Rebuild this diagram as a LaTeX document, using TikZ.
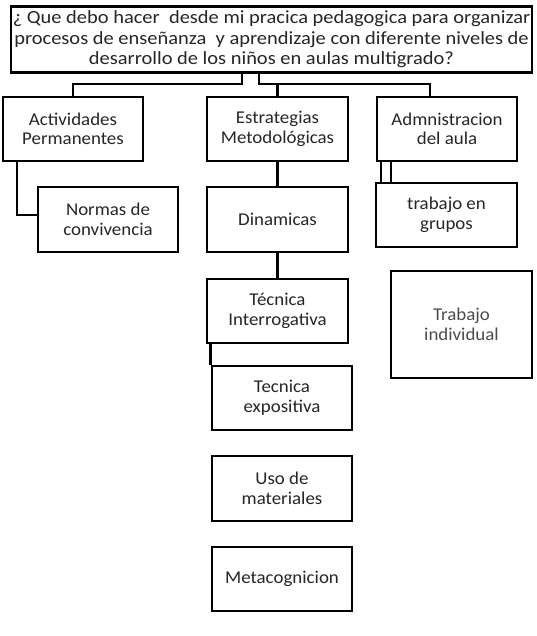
\documentclass[tikz,border=0pt]{standalone}
\usepackage{fontspec}
\setmainfont[FakeStretch=1.05]{Carlito}
\newfontfamily\topfont[FakeStretch=1.1]{Carlito}
\begin{document}
\begin{tikzpicture}[x=1pt,y=-1pt,
  box/.style={draw=black, line width=2.6pt, fill=white, inner sep=0pt, align=center,
    font=\fontsize{18}{19.5}\selectfont, text=black!85},
  con/.style={draw=black, line width=2.6pt}]
\useasboundingbox (0,0) rectangle (536,636);
% boxes
\node[box, minimum width=521pt, minimum height=66pt, font=\topfont\fontsize{18.6}{20.5}\selectfont] (top) at (271.5,39.5)
  {¿ Que debo hacer~ desde mi pracica pedagogica para organizar\\
   procesos de enseñanza~ y aprendizaje con diferente niveles de\\
   desarrollo de los niños en aulas multigrado?};
\node[box, minimum width=140pt, minimum height=64pt] (act) at (73,129) {Actividades\\Permanentes};
\node[box, minimum width=141pt, minimum height=64pt] (est) at (277.5,129) {Estrategias\\Metodológicas};
\node[box, minimum width=140pt, minimum height=64pt] (adm) at (447,129) {Admnistracion\\del aula};
\node[box, minimum width=140pt, minimum height=65pt] (nor) at (108,219.5) {Normas de\\convivencia};
\node[box, minimum width=141pt, minimum height=65pt] (din) at (277.5,219.5) {Dinamicas};
\node[box, minimum width=141pt, minimum height=64pt] (grp) at (446.5,215) {trabajo en\\grupos};
\node[box, minimum width=141pt, minimum height=64pt] (tin) at (277.5,311) {Técnica\\Interrogativa};
\node[box, minimum width=141pt, minimum height=107pt, text=black!70] (ind) at (461.5,324.5) {Trabajo\\individual};
\node[box, minimum width=140pt, minimum height=64pt] (exp) at (282,398) {Tecnica\\expositiva};
\node[box, minimum width=140pt, minimum height=65pt] (uso) at (282,488.5) {Uso de\\materiales};
\node[box, minimum width=140pt, minimum height=64pt] (met) at (282,579) {Metacognicion};
% helper coordinates
\coordinate (l1) at (242,0);
\coordinate (r1) at (259,0);
\coordinate (r2) at (430,0);
\coordinate (h) at (0,84);
\coordinate (a1) at (17,0);
\coordinate (j) at (0,215);
\coordinate (g1) at (381,0);
\coordinate (g2) at (391,0);
% connectors
\draw[con] (top.south -| l1) -- (l1 |- h) -| (act.north);
\draw[con] (top.south -| r1) -- (r1 |- h) -- (r2 |- h) -- (r2 |- adm.north);
\draw[con] (est.north) -- (est.north |- h);
\draw[con] (act.south -| a1) -- (a1 |- j) -- (nor.west |- j);
\draw[con] (est.south) -- (din.north);
\draw[con] (din.south) -- (tin.north);
\draw[con] (exp.north west |- tin.south) -- (exp.north west);
\draw[con] (adm.south -| g1) -- (g1 |- grp.north);
\draw[con] (adm.south -| g2) -- (g2 |- grp.north);
\end{tikzpicture}
\end{document}
